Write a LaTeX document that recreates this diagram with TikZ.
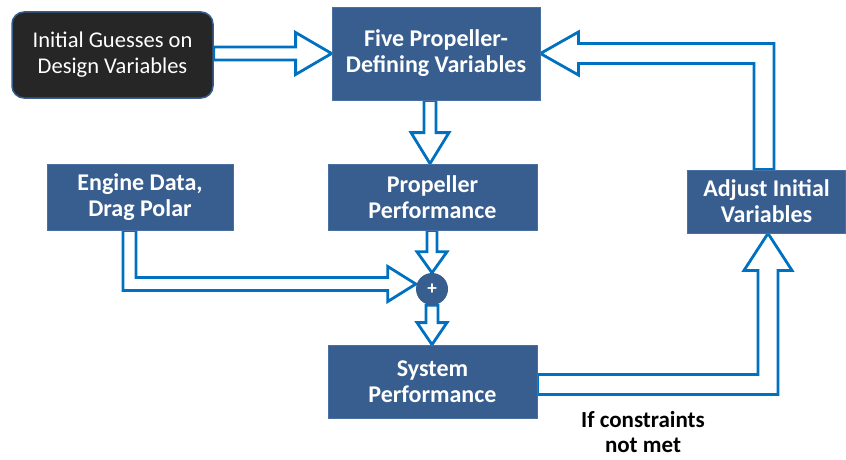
\documentclass[tikz,border=0pt]{standalone}
\usepackage{fontspec}
\setmainfont{Carlito}
\usetikzlibrary{calc,backgrounds}

\definecolor{boxblue}{RGB}{55,94,143}
\definecolor{boxedge}{RGB}{72,112,162}
\definecolor{arrowblue}{RGB}{0,112,192}
\definecolor{darkbox}{RGB}{38,38,38}

\tikzset{
  x=1pt, y=-1pt,
  stagebox/.style={fill=boxblue, draw=boxedge, line width=0.8pt, text=white,
    font=\bfseries\fontsize{24}{26}\selectfont, align=center, inner sep=0pt},
  startbox/.style={fill=darkbox, draw=boxblue, line width=1.5pt, rounded corners=12pt,
    text=white, font=\fontsize{22.5}{26}\selectfont, align=center, inner sep=0pt},
  sumnode/.style={circle, fill=boxblue, minimum size=32pt, inner sep=0pt, text=white,
    font=\bfseries\fontsize{19}{19}\selectfont},
  blockarrow/.style={draw=arrowblue, fill=white, line width=2.8pt, line join=miter},
  note/.style={font=\bfseries\fontsize{23}{25}\selectfont, align=center, text=black}
}

\begin{document}
\begin{tikzpicture}
\useasboundingbox (0,0) rectangle (846,460);

% blocks
\node[startbox, minimum width=201pt, minimum height=86pt] (guess) at (112.5,55) {Initial Guesses on\\Design Variables};
\node[stagebox, minimum width=208pt, minimum height=93pt] (five) at (436,53.5) {Five Propeller-\\Defining Variables};
\node[stagebox, minimum width=186pt, minimum height=66pt] (engine) at (140,197) {Engine Data,\\Drag Polar};
\node[stagebox, minimum width=209pt, minimum height=66pt] (prop) at (432.5,197) {Propeller\\Performance};
\node[stagebox, minimum width=158pt, minimum height=63pt] (adjust) at (766.5,201.5) {Adjust Initial\\Variables};
\node[stagebox, minimum width=209pt, minimum height=73pt] (system) at (432.5,381.5) {System\\Performance};
\node[sumnode] (plus) at (432,289) {+};
\node[note] (cond) at (643,432) {If constraints\\not met};

% anchor points of the block arrows
\coordinate (a1s) at (guess.east |- five.west);
\coordinate (a1t) at (five.west);
\coordinate (a2s) at ($(five.south)+(-6,0)$);
\coordinate (a2t) at (a2s |- prop.north);
\coordinate (a3s) at ($(engine.south)+(-10.5,0)$);
\coordinate (a3t) at ($(plus.west)+(0,-5)$);
\coordinate (a4s) at ($(prop.south)+(-0.5,0)$);
\coordinate (a4t) at (plus.north);
\coordinate (a5s) at (plus.south);
\coordinate (a5t) at (plus.south |- system.north);
\coordinate (a6s) at ($(system.east)+(0,3)$);
\coordinate (a6t) at ($(adjust.south)+(1.5,0)$);
\coordinate (a7s) at ($(adjust.north)+(-2.5,0)$);
\coordinate (a7t) at (five.east);

\begin{scope}[on background layer]
  % initial guesses -> five variables
  \draw[blockarrow] ($(a1s)+(0,-6.5)$) -- ($(a1t)+(-36,-6.5)$) -- ($(a1t)+(-36,-21)$)
    -- (a1t) -- ($(a1t)+(-36,21)$) -- ($(a1t)+(-36,6.5)$) -- ($(a1s)+(0,6.5)$) -- cycle;
  % five variables -> propeller performance
  \draw[blockarrow] ($(a2s)+(-6,0)$) -- ($(a2t)+(-6,-31)$) -- ($(a2t)+(-19,-31)$)
    -- (a2t) -- ($(a2t)+(19,-31)$) -- ($(a2t)+(6,-31)$) -- ($(a2s)+(6,0)$) -- cycle;
  % engine data -> summing point
  \draw[blockarrow] ($(a3s)+(-6.5,0)$) -- ($(a3s |- a3t)+(-6.5,6.5)$) -- ($(a3t)+(-28,6.5)$)
    -- ($(a3t)+(-28,17.5)$) -- (a3t) -- ($(a3t)+(-28,-17.5)$) -- ($(a3t)+(-28,-6.5)$)
    -- ($(a3s |- a3t)+(6.5,-6.5)$) -- ($(a3s)+(6.5,0)$) -- cycle;
  % propeller performance -> summing point
  \draw[blockarrow] ($(a4s)+(-5,0)$) -- ($(a4t)+(-5,-21)$) -- ($(a4t)+(-15,-21)$)
    -- (a4t) -- ($(a4t)+(15,-21)$) -- ($(a4t)+(5,-21)$) -- ($(a4s)+(5,0)$) -- cycle;
  % summing point -> system performance
  \draw[blockarrow] ($(a5s)+(-6,0)$) -- ($(a5t)+(-6,-22)$) -- ($(a5t)+(-15,-22)$)
    -- (a5t) -- ($(a5t)+(15,-22)$) -- ($(a5t)+(6,-22)$) -- ($(a5s)+(6,0)$) -- cycle;
  % system performance -> adjust initial variables
  \draw[blockarrow] ($(a6s)+(0,-10)$) -- ($(a6t |- a6s)+(-10,-10)$) -- ($(a6t)+(-10,37)$)
    -- ($(a6t)+(-24,37)$) -- (a6t) -- ($(a6t)+(24,37)$) -- ($(a6t)+(10,37)$)
    -- ($(a6t |- a6s)+(10,10)$) -- ($(a6s)+(0,10)$) -- cycle;
  % adjust initial variables -> five variables
  \draw[blockarrow] ($(a7s)+(-10,0)$) -- ($(a7s |- a7t)+(-10,10)$) -- ($(a7t)+(38,10)$)
    -- ($(a7t)+(38,21.5)$) -- (a7t) -- ($(a7t)+(38,-21.5)$) -- ($(a7t)+(38,-10)$)
    -- ($(a7s |- a7t)+(10,-10)$) -- ($(a7s)+(10,0)$) -- cycle;
\end{scope}
\end{tikzpicture}
\end{document}
